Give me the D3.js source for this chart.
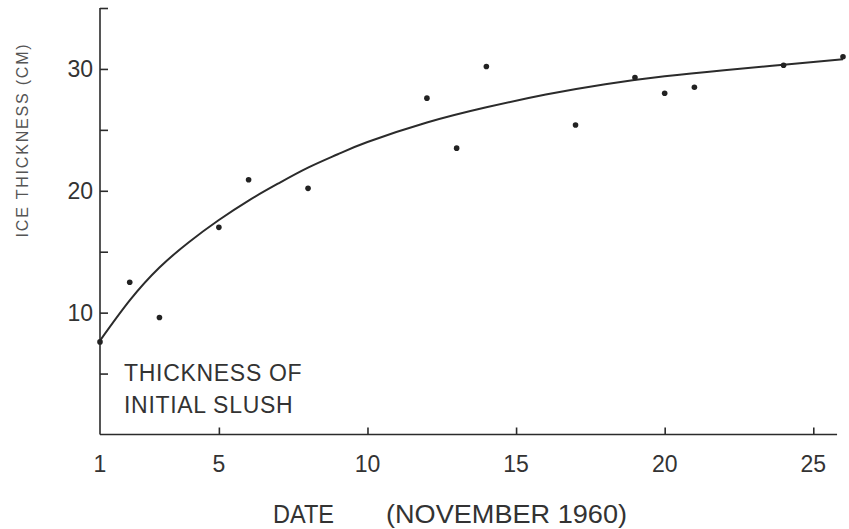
<!DOCTYPE html>
<html>
<head>
<meta charset="utf-8">
<script src="https://cdn.jsdelivr.net/npm/d3@7"></script>
<style>
  body { margin: 0; background: #fff; }
  text { font-family: "Liberation Sans", Arial, sans-serif; fill: #333; }
</style>
</head>
<body>
<div id="chart"></div>
<script>
// DATA
// measured ice thickness (cm) on each day of November 1960
const days = [1, 2, 3, 5, 6, 8, 12, 13, 14, 17, 19, 20, 21, 24, 26];
const thickness = [7.6, 12.5, 9.6, 17.0, 20.9, 20.2, 27.6, 23.5, 30.2, 25.4, 29.3, 28.0, 28.5, 30.3, 31.0];

// hand drawn fitted curve
const curveDays = [1, 2, 3, 4, 5, 6, 7, 8, 9, 10, 12, 14, 16, 18, 20, 22, 24, 26];
const curveThickness = [7.7, 11.0, 13.7, 15.8, 17.6, 19.2, 20.6, 21.9, 23.0, 24.0, 25.6, 26.85, 27.9, 28.75, 29.4, 29.9, 30.35, 30.8];

const xTicks = [1, 5, 10, 15, 20, 25];
const yTicks = [5, 10, 15, 20, 25, 30, 35];
const yLabels = [10, 20, 30];

// SVG AND SCALES
const width = 849, height = 529;
const svg = d3.select("#chart").append("svg")
  .attr("width", width)
  .attr("height", height);

const x = d3.scaleLinear([1, 26], [100, 843]);
const y = d3.scaleLinear([0, 35], [434.5, 8]);

const ink = "#2b2b2b";

// AXES
const xAxis = svg.append("g")
  .attr("transform", `translate(0,${y(0)})`)
  .call(d3.axisBottom(x).tickValues(xTicks.filter(d => d > 1)).tickSize(-7).tickSizeOuter(0).tickFormat(""));
xAxis.select(".domain").attr("d", `M${x(1)},0H${x(25.8)}`);
xAxis.selectAll("line, path").attr("stroke", ink).attr("stroke-width", 1.6);

const yAxis = svg.append("g")
  .attr("transform", `translate(${x(1)},0)`)
  .call(d3.axisLeft(y).tickValues(yTicks).tickSize(-8).tickSizeOuter(0).tickFormat(""));
yAxis.select(".domain").attr("d", `M0,${y(0)}V${y(35)}`);
yAxis.selectAll("line, path").attr("stroke", ink).attr("stroke-width", 1.6);

// TICK LABELS
svg.append("g").selectAll("text")
  .data(xTicks)
  .join("text")
  .attr("x", d => x(d))
  .attr("y", 472)
  .attr("text-anchor", "middle")
  .style("font-size", "23px")
  .text(d => d);

svg.append("g").selectAll("text")
  .data(yLabels)
  .join("text")
  .attr("x", 93)
  .attr("y", d => y(d) + 8)
  .attr("text-anchor", "end")
  .style("font-size", "23px")
  .text(d => d);

// CURVE
const line = d3.line()
  .x((d, i) => x(curveDays[i]))
  .y(d => y(d))
  .curve(d3.curveNatural);

svg.append("path")
  .datum(curveThickness)
  .attr("d", line)
  .attr("fill", "none")
  .attr("stroke", ink)
  .attr("stroke-width", 2);

// POINTS
svg.append("g").selectAll("circle")
  .data(days)
  .join("circle")
  .attr("cx", d => x(d))
  .attr("cy", (d, i) => y(thickness[i]))
  .attr("r", 2.8)
  .attr("fill", "#222");

// ANNOTATION
svg.append("text")
  .attr("x", 124).attr("y", 381)
  .style("font-size", "23px").style("letter-spacing", "0.7px")
  .text("THICKNESS OF");
svg.append("text")
  .attr("x", 124).attr("y", 413)
  .style("font-size", "23px").style("letter-spacing", "0.7px")
  .text("INITIAL SLUSH");

// AXIS TITLES
svg.append("text")
  .attr("x", 273).attr("y", 523)
  .attr("textLength", 61).attr("lengthAdjust", "spacingAndGlyphs")
  .style("font-size", "25px")
  .text("DATE");
svg.append("text")
  .attr("x", 386).attr("y", 523)
  .attr("textLength", 241).attr("lengthAdjust", "spacingAndGlyphs")
  .style("font-size", "25px")
  .text("(NOVEMBER 1960)");

svg.append("text")
  .attr("transform", "translate(28,140) rotate(-90)")
  .attr("text-anchor", "middle")
  .style("font-size", "16px").style("letter-spacing", "1.8px")
  .style("fill", "#555")
  .text("ICE THICKNESS (CM)");
</script>
</body>
</html>
